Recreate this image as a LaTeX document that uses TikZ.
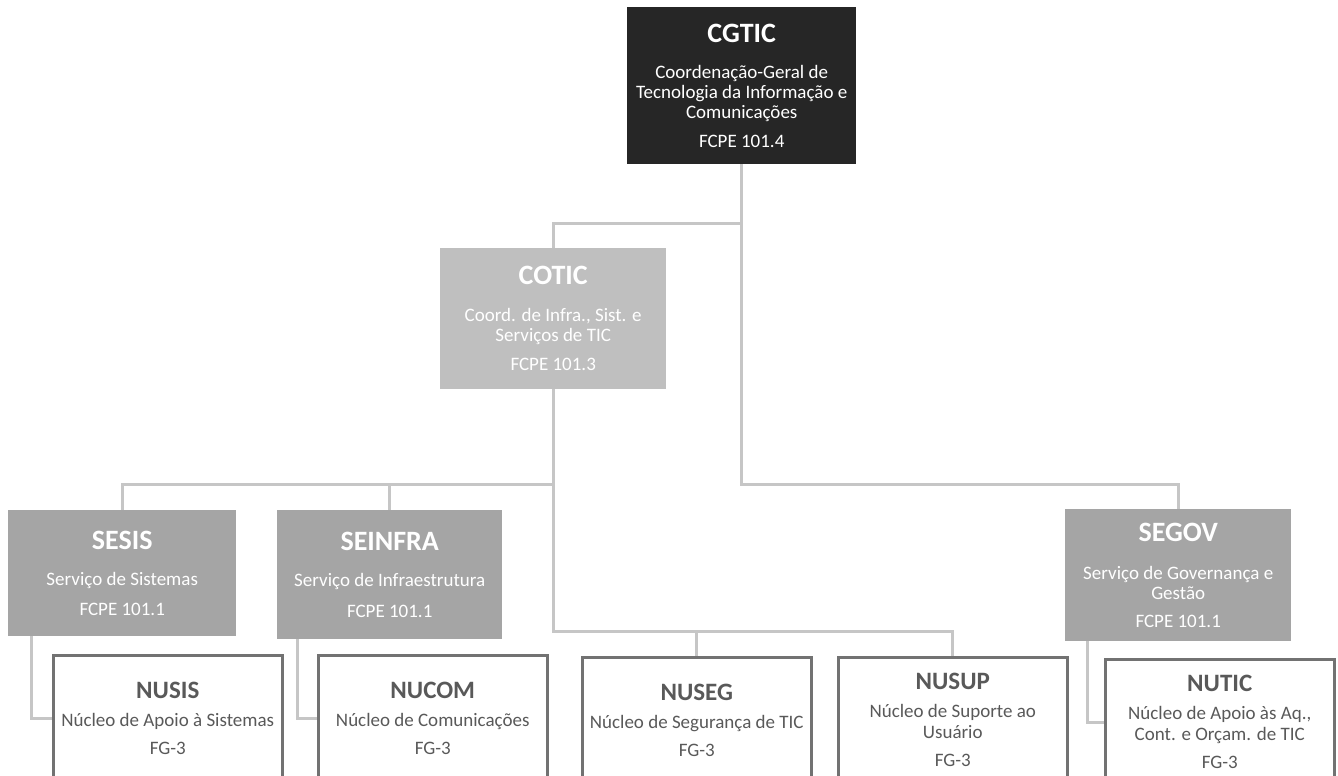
\documentclass[tikz,border=0pt]{standalone}
\usepackage{fontspec}
\setmainfont{Carlito}
\usetikzlibrary{backgrounds}
\definecolor{cgfill}{HTML}{262626}
\definecolor{cofill}{HTML}{BFBFBF}
\definecolor{sefill}{HTML}{A5A5A5}
\definecolor{nuline}{HTML}{727272}
\definecolor{nutext}{HTML}{595959}
\definecolor{connc}{HTML}{C6C6C6}
\newcommand\UpTtl{\fontsize{28}{30}\selectfont\bfseries}
\newcommand\UpBdy{\fontsize{19}{20}\selectfont}
\newcommand\NuTtl{\fontsize{25}{27}\selectfont\bfseries}
\newcommand\NuBdy{\fontsize{19}{21}\selectfont}
\tikzset{
  upper/.style={rectangle, inner sep=0pt, align=center, text=white, font=\UpBdy, anchor=north west},
  cgbox/.style={upper, fill=cgfill},
  cobox/.style={upper, fill=cofill},
  sebox/.style={upper, fill=sefill},
  nubox/.style={rectangle, draw=nuline, line width=2.5pt, fill=white, text=nutext, align=center,
    font=\NuBdy, inner sep=0pt, anchor=north west, minimum width=229pt, minimum height=126pt},
  conn/.style={draw=connc, line width=3pt},
}
\begin{document}
\begin{tikzpicture}[x=1pt,y=-1pt]
\useasboundingbox (0,0) rectangle (1338,776);
\clip (0,0) rectangle (1338,776);
% bus levels
\coordinate (b1) at (0,223);
\coordinate (b2) at (0,484);
\coordinate (b3) at (0,631);
% nodes
\node[cgbox, minimum width=229pt, minimum height=157pt] (cgtic) at (627,7)
  {{\UpTtl CGTIC}\\[16pt]Coordenação-Geral de\\Tecnologia da Informação e\\Comunicações\\[9pt]FCPE 101.4};
\node[cobox, minimum width=226pt, minimum height=141pt] (cotic) at (440,248)
  {{\UpTtl COTIC}\\[17pt]Coord. de Infra., Sist. e\\Serviços de TIC\\[9pt]FCPE 101.3};
\node[sebox, minimum width=228pt, minimum height=126pt] (sesis) at (8,510)
  {{\UpTtl SESIS}\\[16pt]Serviço de Sistemas\\[10pt]FCPE 101.1};
\node[sebox, minimum width=225pt, minimum height=129pt] (seinfra) at (277,510)
  {{\UpTtl SEINFRA}\\[16pt]Serviço de Infraestrutura\\[11pt]FCPE 101.1};
\node[sebox, minimum width=226pt, minimum height=132pt] (segov) at (1065,509)
  {{\UpTtl SEGOV}\\[18pt]Serviço de Governança e\\Gestão\\[8pt]FCPE 101.1};
\node[nubox] (nusis) at (52,654)
  {{\NuTtl NUSIS}\\[7pt]Núcleo de Apoio à Sistemas\\[7pt]FG-3};
\node[nubox] (nucom) at (317,654)
  {{\NuTtl NUCOM}\\[7pt]Núcleo de Comunicações\\[7pt]FG-3};
\node[nubox] (nuseg) at (581,656)
  {{\NuTtl NUSEG}\\[7pt]Núcleo de Segurança de TIC\\[7pt]FG-3};
\node[nubox] (nusup) at (837,656)
  {{\NuTtl NUSUP}\\[7pt]Núcleo de Suporte ao\\Usuário\\[7pt]FG-3};
\node[nubox] (nutic) at (1104,658)
  {{\NuTtl NUTIC}\\[7pt]Núcleo de Apoio às Aq.,\\Cont. e Orçam. de TIC\\[7pt]FG-3};
% connectors (behind the boxes)
\begin{scope}[on background layer]
\fill[white] (0,0) rectangle (1338,776);
\draw[conn] (cgtic.south) -- (cgtic.south |- b2) -| (segov.north);
\draw[conn] (cgtic.south |- b1) -| (cotic.north);
\draw[conn] (cotic.south) -- (cotic.south |- b3) -| (nusup.north);
\draw[conn] (cotic.south |- b2) -| (sesis.north);
\draw[conn] (seinfra.north |- b2) -- (seinfra.north);
\draw[conn] (cotic.south |- b3) -| (nuseg.north);
\draw[conn] ([xshift=23pt]sesis.south west) |- (nusis.west);
\draw[conn] ([xshift=20pt]seinfra.south west) |- (nucom.west);
\draw[conn] ([xshift=22pt]segov.south west) |- (nutic.west);
\end{scope}
\end{tikzpicture}
\end{document}
